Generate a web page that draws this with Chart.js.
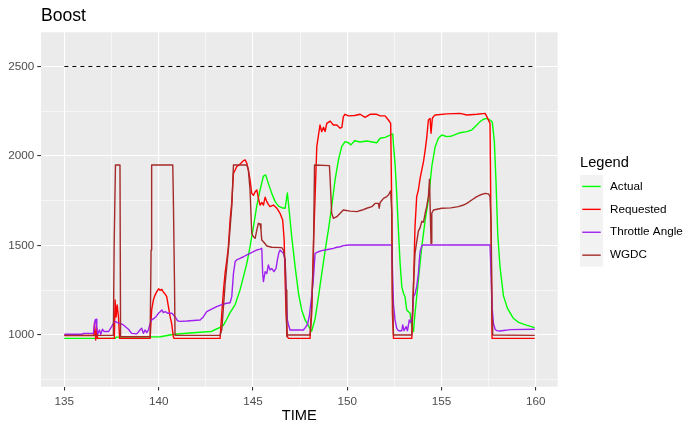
<!DOCTYPE html>
<html>
<head>
<meta charset="utf-8">
<script src="https://cdn.jsdelivr.net/npm/chart.js@4.4.1/dist/chart.umd.min.js"></script>
<style>
  html, body { margin: 0; padding: 0; background: #fff; }
</style>
</head>
<body>
<canvas id="boost" width="700" height="432"></canvas>
<script>
// series
const actualTime = [135.0, 137.7, 137.75, 140.1, 140.8, 142.2, 142.8, 142.9, 143.35, 143.44, 143.6, 143.79, 144.06, 144.32, 144.5, 144.68, 144.85, 145.03, 145.2, 145.38, 145.56, 145.68, 145.82, 146.0, 146.18, 146.36, 146.53, 146.71, 146.83, 146.94, 147.06, 147.24, 147.42, 147.59, 147.77, 147.95, 148.12, 148.3, 148.48, 148.65, 148.83, 149.01, 149.18, 149.36, 149.54, 149.71, 149.89, 150.07, 150.2, 150.4, 150.69, 151.04, 151.57, 151.75, 152.01, 152.28, 152.42, 152.46, 152.54, 152.63, 152.72, 152.81, 152.9, 152.99, 153.07, 153.16, 153.34, 153.43, 153.52, 153.6, 153.78, 153.96, 154.14, 154.31, 154.49, 154.67, 154.84, 155.02, 155.29, 155.5, 155.99, 156.35, 156.61, 156.88, 157.05, 157.23, 157.41, 157.58, 157.7, 157.81, 157.9, 157.99, 158.11, 158.29, 158.5, 158.8, 159.1, 159.5, 159.95]
const actual = [981, 981, 988, 990, 1004, 1015, 1019, 1025, 1047, 1055, 1085, 1125, 1170, 1252, 1326, 1400, 1493, 1605, 1717, 1810, 1888, 1894, 1847, 1791, 1745, 1720, 1711, 1708, 1793, 1680, 1549, 1382, 1233, 1140, 1084, 1050, 1022, 1090, 1214, 1340, 1470, 1590, 1717, 1866, 1978, 2052, 2080, 2074, 2062, 2085, 2078, 2084, 2074, 2099, 2104, 2117, 2123, 2060, 1959, 1790, 1587, 1400, 1270, 1233, 1214, 1140, 1121, 1047, 1019, 1121, 1307, 1493, 1642, 1754, 1940, 2052, 2099, 2117, 2108, 2110, 2130, 2136, 2145, 2173, 2192, 2205, 2210, 2201, 2190, 2080, 1850, 1560, 1380, 1220, 1150, 1095, 1070, 1055, 1041]

const requestedTime = [135.0, 136.55, 136.6, 136.66, 136.72, 136.76, 137.65, 137.69, 137.74, 137.8, 137.87, 137.93, 139.55, 139.63, 139.72, 139.8, 139.9, 140.0, 140.08, 140.17, 140.25, 140.35, 140.43, 140.52, 140.61, 140.69, 140.78, 140.82, 143.26, 143.35, 143.44, 143.53, 143.62, 143.7, 143.79, 143.88, 143.97, 144.06, 144.14, 144.32, 144.5, 144.59, 144.68, 144.76, 144.85, 144.94, 145.03, 145.12, 145.21, 145.3, 145.38, 145.48, 145.56, 145.65, 145.74, 145.82, 145.91, 146.09, 146.27, 146.44, 146.58, 146.66, 146.71, 146.76, 146.83, 146.89, 148.03, 148.12, 148.21, 148.3, 148.39, 148.48, 148.56, 148.65, 148.75, 148.83, 148.92, 149.1, 149.27, 149.45, 149.63, 149.72, 149.8, 149.89, 150.07, 150.4, 150.69, 150.95, 151.22, 151.57, 151.75, 152.01, 152.19, 152.31, 152.37, 152.4, 152.46, 153.43, 153.52, 153.6, 153.69, 153.78, 153.87, 153.96, 154.05, 154.14, 154.22, 154.31, 154.4, 154.45, 154.52, 154.58, 154.67, 155.29, 155.99, 156.35, 156.88, 157.32, 157.41, 157.58, 157.64, 157.69, 159.95]
const requested = [997, 997, 1070, 972, 1040, 981, 981, 1195, 1100, 1168, 1100, 981, 981, 1140, 1195, 1220, 1242, 1258, 1250, 1255, 1240, 1228, 1214, 1158, 1102, 1065, 991, 981, 981, 1121, 1250, 1350, 1420, 1493, 1640, 1740, 1903, 1922, 1940, 1955, 1974, 1978, 1959, 1922, 1866, 1791, 1780, 1800, 1810, 1760, 1726, 1740, 1726, 1770, 1745, 1730, 1717, 1726, 1708, 1680, 1642, 1531, 1307, 1121, 991, 981, 981, 1121, 1493, 1773, 2052, 2117, 2173, 2136, 2160, 2136, 2182, 2195, 2173, 2173, 2155, 2160, 2220, 2233, 2224, 2226, 2233, 2216, 2233, 2233, 2224, 2224, 2201, 2182, 1680, 1121, 981, 981, 1270, 1605, 1773, 1810, 1875, 1922, 1968, 2033, 2100, 2201, 2210, 2127, 2210, 2220, 2229, 2235, 2238, 2229, 2233, 2238, 2220, 2182, 1500, 981, 981]

const throttleTime = [135.0, 135.92, 136.01, 136.54, 136.63, 136.68, 136.72, 136.77, 136.86, 136.93, 137.02, 137.11, 137.34, 137.51, 137.64, 137.74, 137.81, 137.95, 138.13, 138.4, 138.57, 138.84, 139.01, 139.1, 139.19, 139.28, 139.37, 139.46, 139.55, 139.63, 139.76, 139.86, 139.99, 140.08, 140.17, 140.25, 140.35, 140.5, 140.7, 140.8, 140.93, 141.0, 141.1, 141.5, 142.2, 142.38, 142.55, 142.73, 143.08, 143.35, 143.61, 143.79, 143.88, 143.97, 144.06, 144.14, 144.32, 144.5, 144.68, 144.85, 145.03, 145.21, 145.38, 145.47, 145.52, 145.56, 145.65, 145.74, 145.82, 145.91, 146.0, 146.12, 146.23, 146.3, 146.37, 146.44, 146.53, 146.62, 146.71, 146.76, 146.83, 146.89, 146.97, 147.68, 147.77, 147.9, 148.0, 148.1, 148.2, 148.3, 148.48, 148.65, 148.83, 149.1, 149.27, 149.45, 149.63, 149.8, 150.07, 152.37, 152.4, 152.46, 152.54, 152.63, 152.72, 152.9, 152.95, 153.02, 153.13, 153.2, 153.3, 153.37, 153.46, 153.52, 153.6, 153.69, 153.78, 153.83, 153.87, 153.96, 154.05, 157.58, 157.64, 157.69, 157.76, 157.85, 157.94, 158.1, 158.4, 158.64, 159.95]
const throttle = [1004, 1004, 1009, 1009, 1084, 1088, 1037, 1004, 1028, 1004, 1032, 1019, 1019, 1047, 1074, 1074, 1069, 1065, 1056, 1032, 1009, 1006, 1028, 1037, 1009, 1028, 1013, 1028, 1065, 1084, 1093, 1102, 1121, 1130, 1140, 1125, 1130, 1121, 1121, 1110, 1093, 1080, 1076, 1078, 1084, 1102, 1130, 1140, 1158, 1170, 1177, 1180, 1214, 1344, 1410, 1419, 1428, 1437, 1447, 1456, 1465, 1475, 1480, 1484, 1344, 1298, 1354, 1344, 1391, 1363, 1372, 1354, 1372, 1419, 1456, 1475, 1465, 1456, 1419, 1251, 1084, 1056, 1028, 1028, 1040, 1060, 1110, 1200, 1300, 1456, 1465, 1471, 1475, 1480, 1484, 1490, 1493, 1499, 1503, 1503, 1382, 1170, 1084, 1037, 1024, 1024, 1056, 1024, 1047, 1024, 1084, 1070, 1102, 1214, 1230, 1270, 1344, 1419, 1465, 1499, 1503, 1503, 1326, 1158, 1065, 1032, 1024, 1022, 1026, 1030, 1032]

const wgdcTime = [135.0, 137.6, 137.64, 137.71, 137.95, 137.98, 139.55, 139.6, 139.63, 140.75, 140.78, 140.84, 140.87, 143.26, 143.35, 143.53, 143.7, 143.88, 143.97, 144.68, 144.76, 144.85, 144.94, 145.03, 145.12, 145.21, 145.29, 145.38, 145.43, 145.47, 145.56, 145.74, 146.0, 146.53, 146.62, 146.71, 146.76, 146.8, 146.83, 148.03, 148.12, 148.21, 148.27, 149.06, 149.1, 149.18, 149.27, 149.45, 149.63, 149.8, 150.16, 150.51, 150.8, 151.04, 151.31, 151.48, 151.66, 151.7, 151.75, 151.93, 152.1, 152.19, 152.31, 152.37, 152.4, 152.46, 153.43, 153.52, 153.6, 153.69, 153.78, 153.87, 153.96, 154.05, 154.14, 154.22, 154.31, 154.37, 154.45, 154.49, 154.58, 155.02, 155.5, 155.9, 156.17, 156.35, 156.61, 156.88, 157.05, 157.32, 157.5, 157.58, 157.64, 157.69, 157.72, 159.95]
const wgdc = [998, 998, 1493, 1950, 1950, 990, 990, 1475, 1950, 1950, 1773, 1307, 998, 998, 1030, 1289, 1475, 1717, 1950, 1950, 1922, 1810, 1568, 1549, 1540, 1587, 1624, 1620, 1587, 1531, 1521, 1497, 1490, 1488, 1475, 1419, 1251, 991, 1000, 1000, 1158, 1437, 1950, 1946, 1866, 1680, 1652, 1661, 1680, 1698, 1692, 1689, 1698, 1708, 1717, 1735, 1735, 1708, 1740, 1763, 1773, 1782, 1805, 1680, 1250, 1000, 1000, 1280, 1456, 1520, 1580, 1600, 1635, 1630, 1680, 1717, 1773, 1870, 1512, 1680, 1698, 1708, 1710, 1717, 1726, 1735, 1754, 1773, 1782, 1791, 1788, 1773, 1610, 1084, 1000, 998]

const targetTime = [135, 159.95]
const target = [2500, 2500]

const xMajor = [135, 140, 145, 150, 155, 160]
const xMinor = [137.5, 142.5, 147.5, 152.5, 157.5]
const yMajor = [1000, 1500, 2000, 2500]
const yMinor = [750, 1250, 1750, 2250]

const etiquetas = ['Actual', 'Requested', 'Throttle Angle', 'WGDC']
const colores = ['#00FF00', '#FF0000', '#A020F0', '#A52A2A']

const FONT = '"Liberation Sans", Arial, sans-serif'
const area = { left: 41, right: 557.7, top: 32.3, bottom: 386.7 }

const toPoints = (xs, ys) => xs.map((x, i) => ({ x: x, y: ys[i] }))

const serie = (label, xs, ys, color, order) => ({
  label: label,
  data: toPoints(xs, ys),
  borderColor: color,
  backgroundColor: color,
  borderWidth: 1.4,
  pointRadius: 0,
  fill: false,
  tension: 0,
  borderJoinStyle: 'round',
  order: order
})

// ggplot-ish decorations: grey panel, title, axis title, legend box
const ggPlot = {
  id: 'ggPlot',
  beforeDraw(chart) {
    const { ctx, chartArea } = chart
    ctx.save()
    ctx.fillStyle = '#EBEBEB'
    ctx.fillRect(chartArea.left, chartArea.top, chartArea.right - chartArea.left, chartArea.bottom - chartArea.top)
    ctx.restore()
  },
  afterDraw(chart) {
    const { ctx, chartArea } = chart
    ctx.save()
    ctx.fillStyle = '#000'
    ctx.textBaseline = 'middle'
    ctx.textAlign = 'left'
    ctx.font = '17.6px ' + FONT
    ctx.fillText('Boost', chartArea.left, 16)

    ctx.textAlign = 'center'
    ctx.font = '14.67px ' + FONT
    ctx.fillText('TIME', (chartArea.left + chartArea.right) / 2, 416)

    // legend
    const lx = 580
    const top = 175
    const key = 22.9
    ctx.textAlign = 'left'
    ctx.fillText('Legend', lx, 162.7)
    ctx.fillStyle = '#F2F2F2'
    ctx.fillRect(lx, top, 23, key * etiquetas.length)
    ctx.font = '11.7px ' + FONT
    etiquetas.forEach((t, i) => {
      const cy = top + key * i + key / 2
      ctx.strokeStyle = colores[i]
      ctx.lineWidth = 1.4
      ctx.beginPath()
      ctx.moveTo(lx + 2.3, cy)
      ctx.lineTo(lx + 20.7, cy)
      ctx.stroke()
      ctx.fillStyle = '#000'
      ctx.fillText(t, 610, cy)
    })
    ctx.restore()
  }
}

const $grafica = document.querySelector('#boost')

new Chart($grafica, {
  type: 'line',
  data: {
    datasets: [
      serie(etiquetas[0], actualTime, actual, colores[0], 4),
      serie(etiquetas[1], requestedTime, requested, colores[1], 3),
      serie(etiquetas[2], throttleTime, throttle, colores[2], 2),
      serie(etiquetas[3], wgdcTime, wgdc, colores[3], 1),
      {
        label: 'target',
        data: toPoints(targetTime, target),
        borderColor: '#000',
        borderWidth: 1,
        borderDash: [4, 4],
        pointRadius: 0,
        fill: false,
        order: 0
      }
    ]
  },
  options: {
    responsive: false,
    animation: false,
    layout: { padding: { left: 0, top: area.top, right: 700 - area.right, bottom: 0 } },
    plugins: {
      legend: { display: false },
      title: { display: false },
      tooltip: { enabled: false }
    },
    scales: {
      x: {
        type: 'linear',
        min: 133.76,
        max: 161.17,
        afterFit: s => { s.height = 432 - area.bottom },
        afterBuildTicks: s => { s.ticks = xMajor.concat(xMinor).sort((a, b) => a - b).map(v => ({ value: v })) },
        border: { display: false },
        grid: {
          color: '#FFFFFF',
          lineWidth: c => xMajor.includes(c.tick.value) ? 1.1 : 0.55,
          tickLength: 3.7,
          tickWidth: 1.1,
          tickColor: c => xMajor.includes(c.tick.value) ? '#333333' : 'rgba(0,0,0,0)'
        },
        ticks: {
          autoSkip: false,
          maxRotation: 0,
          padding: 4,
          color: '#4D4D4D',
          font: { family: FONT, size: 11.7 },
          callback: v => xMajor.includes(v) ? String(v) : ''
        }
      },
      y: {
        type: 'linear',
        min: 711,
        max: 2691,
        afterFit: s => { s.width = area.left },
        afterBuildTicks: s => { s.ticks = yMinor.concat(yMajor).sort((a, b) => a - b).map(v => ({ value: v })) },
        border: { display: false },
        grid: {
          color: '#FFFFFF',
          lineWidth: c => yMajor.includes(c.tick.value) ? 1.1 : 0.55,
          tickLength: 3.7,
          tickWidth: 1.1,
          tickColor: c => yMajor.includes(c.tick.value) ? '#333333' : 'rgba(0,0,0,0)'
        },
        ticks: {
          padding: 3,
          color: '#4D4D4D',
          font: { family: FONT, size: 11.7 },
          callback: v => yMajor.includes(v) ? String(v) : ''
        }
      }
    }
  },
  plugins: [ggPlot]
})
</script>
</body>
</html>
